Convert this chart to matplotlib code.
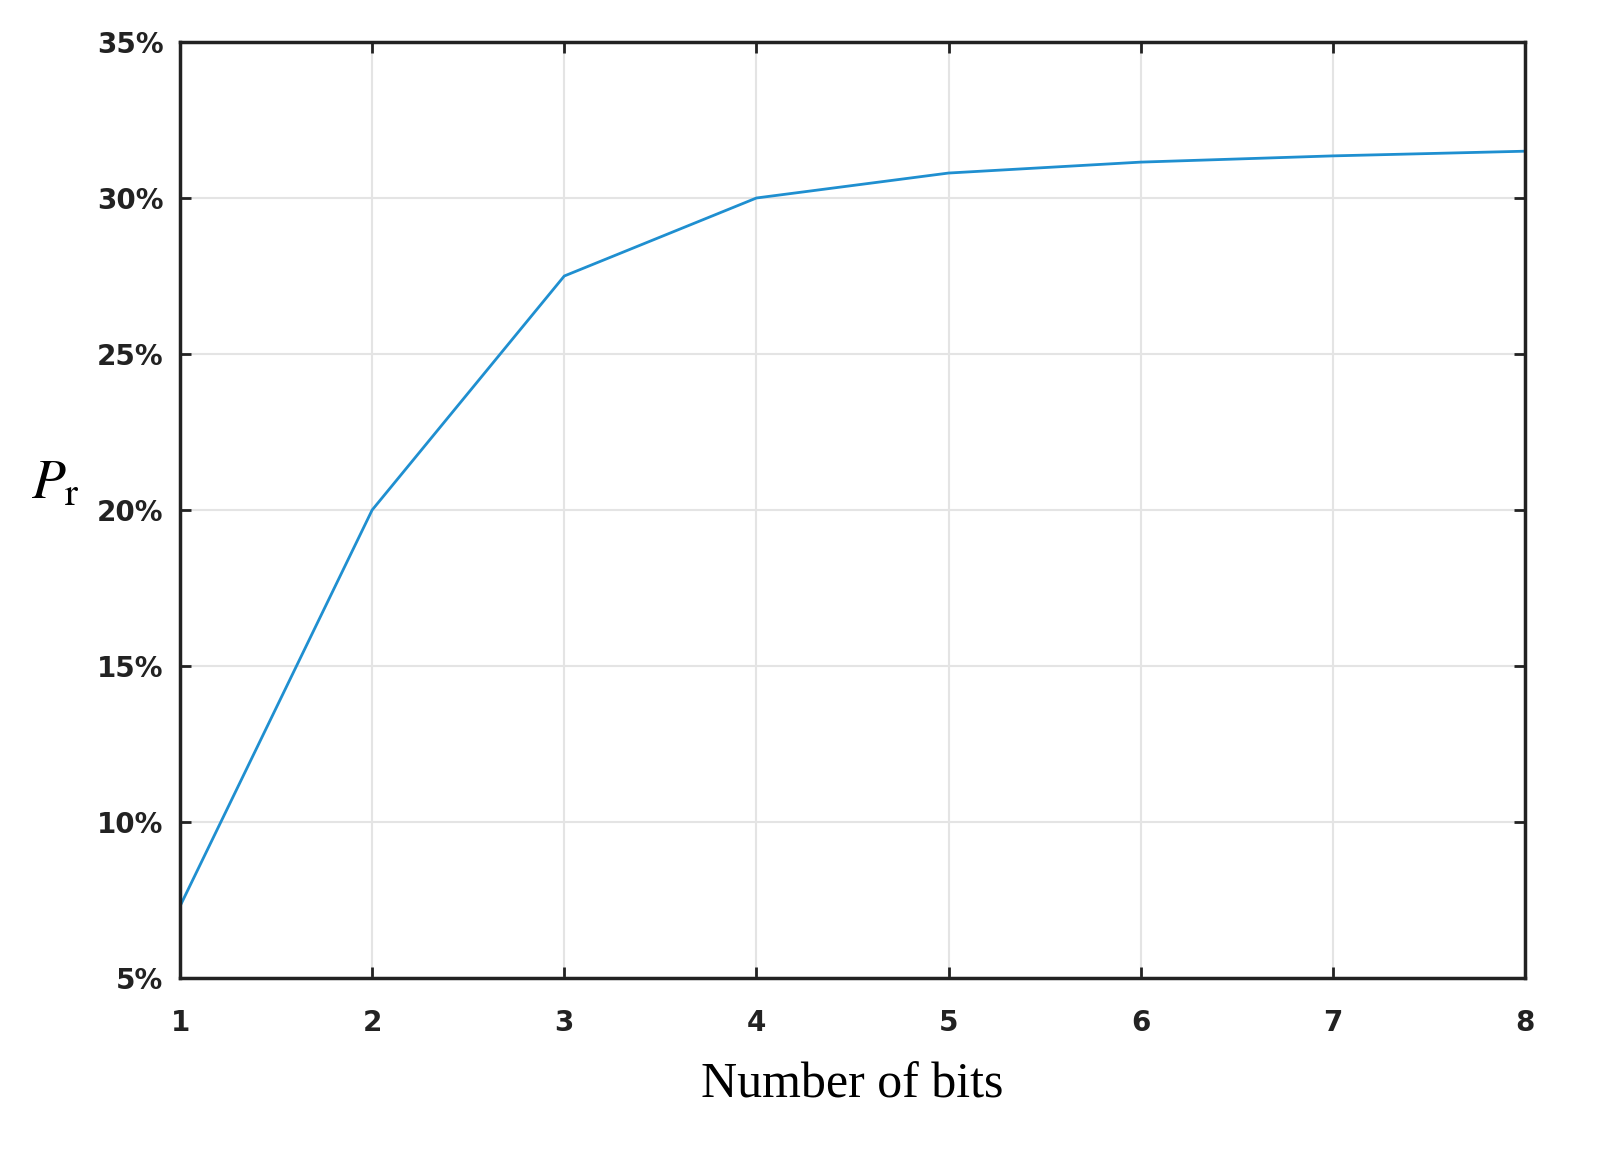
import matplotlib.pyplot as plt
from matplotlib.ticker import FuncFormatter

plt.rcParams['mathtext.fontset'] = 'stix'

bits = [1, 2, 3, 4, 5, 6, 7, 8]
pr = [7.3, 20.0, 27.5, 30.0, 30.8, 31.15, 31.35, 31.5]

fig = plt.figure(figsize=(16.03, 11.62), dpi=100)
ax = fig.add_axes([180 / 1603, 1 - 978 / 1162, 1345 / 1603, 936 / 1162])

ax.plot(bits, pr, color='#1f8fd0', linewidth=2)

ax.set_xlim(1, 8)
ax.set_ylim(5, 35)
ax.set_xticks(bits)
ax.set_yticks([5, 10, 15, 20, 25, 30, 35])
ax.yaxis.set_major_formatter(FuncFormatter(lambda v, p: f'{int(v)}%'))
ax.grid(True, color='#e4e4e4', linewidth=1.5)
for s in ax.spines.values():
    s.set_linewidth(2.5)
    s.set_color('#222222')
ax.tick_params(labelsize=20, width=2, length=8, direction='in', top=True, right=True, colors='#222222')
ax.tick_params(axis='x', pad=22)
ax.tick_params(axis='y', pad=12)
for lab in ax.get_xticklabels() + ax.get_yticklabels():
    lab.set_fontweight('bold')

ax.set_xlabel('Number of bits', fontsize=36, family='Liberation Serif', labelpad=18)
ax.set_ylabel(r'$P_\mathrm{r}$', fontsize=40, rotation=0, labelpad=30)

fig.savefig('out.png', dpi=100)
